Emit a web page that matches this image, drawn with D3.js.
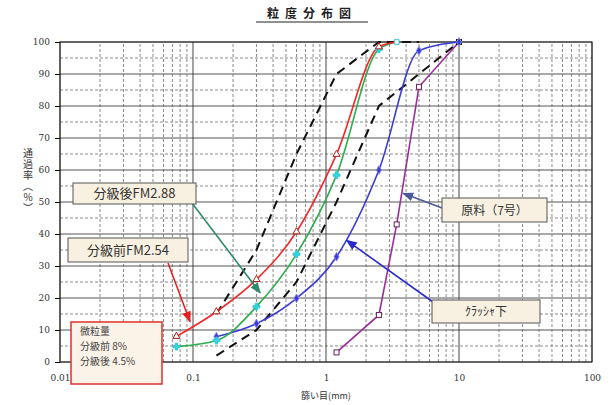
<!DOCTYPE html>
<html>
<head>
<meta charset="utf-8">
<script src="https://cdn.jsdelivr.net/npm/d3@7"></script>
<style>
  body { margin: 0; background: #fff; }
  svg { display: block; font-family: "Noto Sans CJK JP", "DejaVu Sans", sans-serif; }
</style>
</head>
<body>
<div id="chart"></div>
<script>
// --- Data ---
const yTicks = [0, 10, 20, 30, 40, 50, 60, 70, 80, 90, 100];
const xTickLabels = ["0.01", "0.1", "1", "10", "100"];

const beforeX = [0.075, 0.15, 0.3, 0.6, 1.2, 2.5, 3.4];   // 分級前
const beforeY = [8, 15.7, 25.8, 40.7, 64.9, 98.5, 100];
const afterX = [0.075, 0.15, 0.3, 0.6, 1.2, 2.5, 3.4];    // 分級後
const afterY = [4.8, 6.7, 17.3, 33.7, 58.4, 97.8, 100];
const crusherX = [0.15, 0.3, 0.6, 1.2, 2.5, 5, 10];        // クラッシャ下
const crusherY = [7.9, 12, 19.9, 32.9, 60, 97.3, 100];
const rawX = [1.2, 2.5, 3.4, 5, 10];                       // 原料（7号）
const rawY = [3, 14.7, 43, 86, 100];
const lowerX = [0.15, 0.3, 0.6, 1.2, 2.5, 5, 10];          // standard range, lower
const lowerY = [2, 10, 25, 50, 80, 90, 100];
const upperX = [0.15, 0.3, 0.6, 1.2, 2.5, 5];              // standard range, upper
const upperY = [15, 35, 65, 90, 100, 100];

// --- Layout ---
const width = 610, height = 405;
const margin = { top: 42, right: 18, bottom: 43, left: 60 };

const svg = d3.select("#chart").append("svg")
    .attr("width", width)
    .attr("height", height);

const x = d3.scaleLog().domain([0.01, 100]).range([margin.left, width - margin.right]);
const y = d3.scaleLinear().domain([0, 100]).range([height - margin.bottom, margin.top]);

// Title
svg.append("text")
    .attr("x", 312).attr("y", 18)
    .attr("text-anchor", "middle")
    .attr("font-size", 12).attr("font-weight", "bold")
    .attr("fill", "#222")
    .attr("letter-spacing", "6px")
    .text("粒度分布図");
svg.append("line")
    .attr("x1", 256).attr("x2", 368).attr("y1", 22).attr("y2", 22)
    .attr("stroke", "#222");

// --- Grid ---
const grid = svg.append("g");
const minorX = [];
for (let e = -2; e < 2; e++) for (let m = 2; m <= 9; m++) minorX.push(m * Math.pow(10, e));
const majorX = [0.01, 0.1, 1, 10, 100];

grid.selectAll(".mx").data(minorX).join("line")
    .attr("x1", d => x(d)).attr("x2", d => x(d))
    .attr("y1", y(0)).attr("y2", y(100))
    .attr("stroke", "#8a8a8a").attr("stroke-dasharray", "3,2");
grid.selectAll(".my").data(d3.range(5, 100, 10)).join("line")
    .attr("x1", x(0.01)).attr("x2", x(100))
    .attr("y1", d => y(d)).attr("y2", d => y(d))
    .attr("stroke", "#8a8a8a").attr("stroke-dasharray", "3,2");
grid.selectAll(".My").data(yTicks).join("line")
    .attr("x1", x(0.01)).attr("x2", x(100))
    .attr("y1", d => y(d)).attr("y2", d => y(d))
    .attr("stroke", "#555");
grid.selectAll(".Mx").data(majorX).join("line")
    .attr("x1", d => x(d)).attr("x2", d => x(d))
    .attr("y1", y(0)).attr("y2", y(100))
    .attr("stroke", "#444");

svg.append("rect")
    .attr("x", x(0.01)).attr("y", y(100))
    .attr("width", x(100) - x(0.01)).attr("height", y(0) - y(100))
    .attr("fill", "none").attr("stroke", "#222");

// --- Axes ---
const yAxis = d3.axisLeft(y).tickValues(yTicks).tickSize(5).tickPadding(5);
svg.append("g").attr("transform", `translate(${x(0.01)},0)`).call(yAxis)
    .call(g => g.select(".domain").remove())
    .call(g => g.selectAll("text").attr("font-size", 9).attr("fill", "#333")
        .attr("font-family", "DejaVu Serif, serif"));

const xAxis = d3.axisBottom(x).tickValues(majorX).tickSize(0).tickPadding(13)
    .tickFormat((d, i) => xTickLabels[i]);
svg.append("g").attr("transform", `translate(0,${y(0)})`).call(xAxis)
    .call(g => g.select(".domain").remove())
    .call(g => g.selectAll("text").attr("font-size", 9).attr("fill", "#333")
        .attr("font-family", "DejaVu Serif, serif"));

svg.append("text")
    .attr("x", x(1)).attr("y", 399)
    .attr("text-anchor", "middle")
    .attr("font-size", 9).attr("fill", "#333")
    .text("篩い目(mm)");

// vertical y label
svg.append("text")
    .attr("x", 28).attr("y", 148)
    .style("writing-mode", "vertical-rl")
    .style("text-orientation", "upright")
    .attr("font-size", 10).attr("fill", "#333")
    .attr("letter-spacing", "1px")
    .text("通過率（%）");

// --- Series ---
const zip = (xs, ys) => xs.map((v, i) => [v, ys[i]]);
const smooth = d3.line().x(d => x(d[0])).y(d => y(d[1])).curve(d3.curveMonotoneX);
const straight = d3.line().x(d => x(d[0])).y(d => y(d[1]));

const plot = svg.append("g");

plot.append("path").attr("d", straight(zip(upperX, upperY)))
    .attr("fill", "none").attr("stroke", "#111").attr("stroke-width", 2)
    .attr("stroke-dasharray", "9,6");
plot.append("path").attr("d", straight(zip(lowerX, lowerY)))
    .attr("fill", "none").attr("stroke", "#111").attr("stroke-width", 2)
    .attr("stroke-dasharray", "9,6");

plot.append("path").attr("d", straight(zip(rawX, rawY)))
    .attr("fill", "none").attr("stroke", "#9a2f9a").attr("stroke-width", 1.6);
plot.append("path").attr("d", smooth(zip(crusherX, crusherY)))
    .attr("fill", "none").attr("stroke", "#3a3ad6").attr("stroke-width", 1.6);
plot.append("path").attr("d", smooth(zip(afterX, afterY)))
    .attr("fill", "none").attr("stroke", "#2fae4e").attr("stroke-width", 1.6);
plot.append("path").attr("d", smooth(zip(beforeX, beforeY)))
    .attr("fill", "none").attr("stroke", "#f02828").attr("stroke-width", 1.6);

// markers
plot.selectAll(".rawm").data(zip(rawX, rawY)).join("rect")
    .attr("x", d => x(d[0]) - 2.5).attr("y", d => y(d[1]) - 2.5)
    .attr("width", 5).attr("height", 5)
    .attr("fill", "#fff").attr("stroke", (d, i) => i === rawX.length - 1 ? "#111" : "#6a1f5a");
plot.selectAll(".crm").data(zip(crusherX, crusherY)).join("path")
    .attr("d", d3.symbol(d3.symbolDiamond, 22))
    .attr("transform", d => `translate(${x(d[0])},${y(d[1])})`)
    .attr("fill", "#3a3ad6").attr("stroke", "#8888ee");
plot.selectAll(".afm").data(zip(afterX, afterY)).join("path")
    .attr("d", (d, i) => i === afterX.length - 1 ? d3.symbol(d3.symbolSquare, 22)() : d3.symbol(d3.symbolCross, 26)())
    .attr("transform", d => `translate(${x(d[0])},${y(d[1])})`)
    .attr("fill", (d, i) => i === afterX.length - 1 ? "#fff" : "#33d6e0")
    .attr("stroke", "#33c6d6");
plot.selectAll(".bfm").data(zip(beforeX, beforeY).slice(0, -1)).join("path")
    .attr("d", d3.symbol(d3.symbolTriangle, 22))
    .attr("transform", d => `translate(${x(d[0])},${y(d[1])})`)
    .attr("fill", "#fff").attr("stroke", "#b02020");

// --- Annotations ---
const defs = svg.append("defs");
function marker(id, color) {
  defs.append("marker").attr("id", id)
      .attr("viewBox", "0 0 10 10").attr("refX", 9).attr("refY", 5)
      .attr("markerWidth", 7).attr("markerHeight", 7).attr("orient", "auto")
      .append("path").attr("d", "M0,1 L10,5 L0,9 z").attr("fill", color);
}
marker("arRed", "#e02020");
marker("arGreen", "#2e8b6a");
marker("arBlue", "#2a2ad0");
marker("arSlate", "#4a5a9a");

const arrows = [
  { from: [168, 263], to: [0.095, 12.6], color: "#e02020", id: "arRed" },
  { from: [192, 203], to: [0.32, 21.6], color: "#2e8b6a", id: "arGreen" },
  { from: [433, 302], to: [1.43, 38], color: "#2a2ad0", id: "arBlue" },
  { from: [442, 208], to: [3.8, 52.7], color: "#4a5a9a", id: "arSlate" }
];
svg.append("g").selectAll("line").data(arrows).join("line")
    .attr("x1", d => d.from[0]).attr("y1", d => d.from[1])
    .attr("x2", d => x(d.to[0])).attr("y2", d => y(d.to[1]))
    .attr("stroke", d => d.color).attr("stroke-width", 1.6)
    .attr("marker-end", d => `url(#${d.id})`);

const boxes = [
  { x: 73, y: 183, w: 123, h: 21, text: "分級後FM2.88", size: 13 },
  { x: 68, y: 238, w: 120, h: 24, text: "分級前FM2.54", size: 13 },
  { x: 442, y: 198, w: 105, h: 24, text: "原料（7号）", size: 12 },
  { x: 432, y: 300, w: 108, h: 23, text: "ｸﾗｯｼｬ下", size: 12 }
];
const bg = svg.append("g").selectAll("g").data(boxes).join("g");
bg.append("rect")
    .attr("x", d => d.x).attr("y", d => d.y)
    .attr("width", d => d.w).attr("height", d => d.h)
    .attr("fill", "#f8f1e2").attr("stroke", "#555");
bg.append("text")
    .attr("x", d => d.x + d.w / 2).attr("y", d => d.y + d.h / 2 + 4.5)
    .attr("text-anchor", "middle")
    .attr("font-size", d => d.size).attr("fill", "#333")
    .text(d => d.text);

const fineLines = ["微粒量", "分級前  8%", "分級後 4.5%"];
const fine = svg.append("g");
fine.append("rect")
    .attr("x", 71).attr("y", 322).attr("width", 91).attr("height", 62)
    .attr("fill", "#fcf3e8").attr("stroke", "#e03030").attr("stroke-width", 1.5);
fine.selectAll("text").data(fineLines).join("text")
    .attr("x", 80).attr("y", (d, i) => 335 + i * 15)
    .attr("font-size", 10).attr("fill", "#444")
    .text(d => d);
</script>
</body>
</html>
